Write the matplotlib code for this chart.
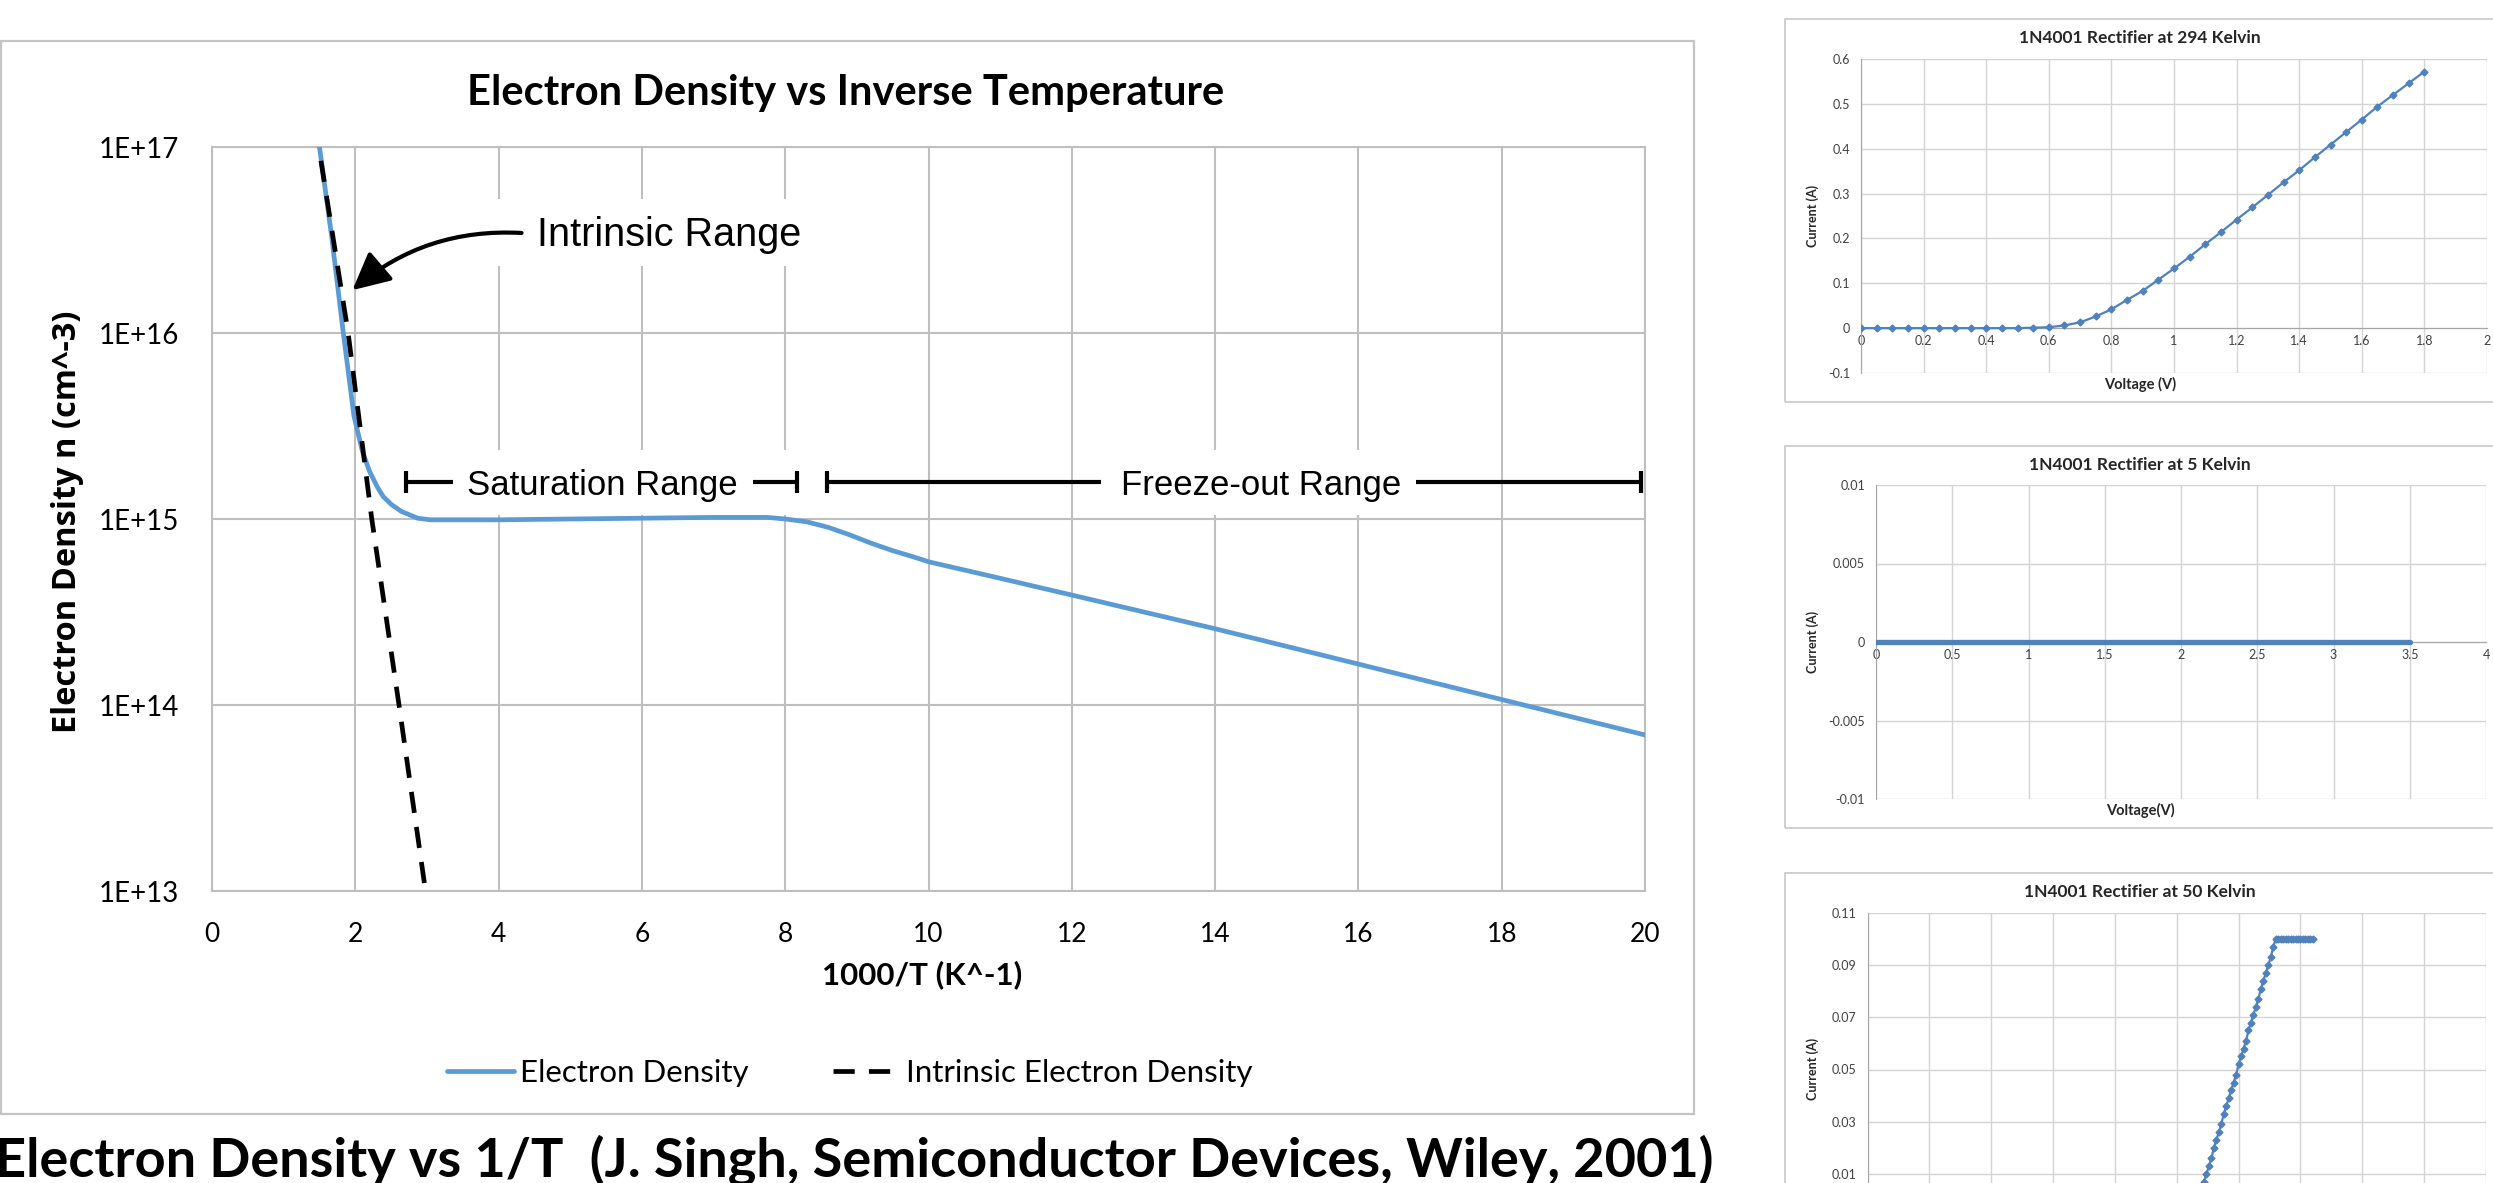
import matplotlib
matplotlib.use("Agg")
import matplotlib.pyplot as plt
from matplotlib.patches import Rectangle

W, H = 2493, 1183

# electron density n vs 1000/T
inv_temp = [1.44, 1.50, 1.67, 1.83, 1.98, 2.10, 2.20, 2.31, 2.39, 2.50, 2.64, 2.87, 3.05,
            4.0, 5.0, 6.0, 7.0, 7.75, 8.0, 8.3, 8.6, 8.9, 9.2, 9.5, 9.8, 10.0, 11.0, 12.0,
            14.0, 16.0, 18.0, 20.0]
density = [1.5e17, 1.0e17, 3.3e16, 1.02e16, 3.6e15, 2.3e15, 1.8e15, 1.48e15, 1.32e15,
           1.2e15, 1.1e15, 1.01e15, 0.99e15,
           0.99e15, 1.0e15, 1.01e15, 1.02e15, 1.02e15, 1.0e15, 9.66e14, 9.02e14, 8.22e14,
           7.41e14, 6.76e14, 6.24e14, 5.89e14, 4.8e14, 3.9e14,
           2.57e14, 1.66e14, 1.07e14, 6.9e13]

# intrinsic carrier density
inv_temp_i = [1.45, 1.49, 1.90, 2.23, 2.61, 2.98, 3.02]
density_i = [1.3e17, 1.0e17, 1.0e16, 1.0e15, 1.0e14, 1.0e13, 7.8e12]

x_ticks = [0, 2, 4, 6, 8, 10, 12, 14, 16, 18, 20]
y_ticks = [1e13, 1e14, 1e15, 1e16, 1e17]
y_labels = ["1E+13", "1E+14", "1E+15", "1E+16", "1E+17"]

# 1N4001 I-V sweeps
v_294 = [0.0, 0.05, 0.1, 0.15, 0.2, 0.25, 0.3, 0.35, 0.4, 0.45, 0.5, 0.55, 0.6, 0.65,
         0.7, 0.75, 0.8, 0.85, 0.9, 0.95, 1.0, 1.05, 1.1, 1.15, 1.2, 1.25, 1.3, 1.35,
         1.4, 1.45, 1.5, 1.55, 1.6, 1.65, 1.7, 1.75, 1.8]
i_294 = [0.0, 0.0, 0.0, 0.0, 0.0, 0.0, 0.0, 0.0, 0.0, 0.0, 0.0, 0.001, 0.002, 0.006,
         0.013, 0.026, 0.042, 0.063, 0.083, 0.108, 0.133, 0.159, 0.187, 0.214, 0.242,
         0.269, 0.297, 0.325, 0.352, 0.381, 0.409, 0.437, 0.465, 0.494, 0.520, 0.546,
         0.572]

v_5 = [0.0, 3.5]
i_5 = [0.0, 0.0]

v_50 = [2.70, 2.72, 2.74, 2.76, 2.78, 2.80, 2.82, 2.84, 2.86, 2.88, 2.90, 2.92, 2.94,
        2.96, 2.98, 3.00, 3.02, 3.04, 3.06, 3.08, 3.10, 3.12, 3.14, 3.16, 3.18, 3.20,
        3.22, 3.24, 3.26, 3.28, 3.30, 3.32, 3.34, 3.36, 3.38, 3.40, 3.42, 3.44, 3.46,
        3.48, 3.50, 3.52, 3.54, 3.56, 3.58, 3.60]
i_50 = [0.004, 0.007, 0.010, 0.013, 0.016, 0.020, 0.023, 0.026, 0.029, 0.033, 0.036,
        0.039, 0.042, 0.045, 0.048, 0.052, 0.055, 0.058, 0.061, 0.065, 0.068, 0.071,
        0.074, 0.077, 0.081, 0.084, 0.087, 0.090, 0.093, 0.097, 0.100, 0.100, 0.100,
        0.100, 0.100, 0.100, 0.100, 0.100, 0.100, 0.100, 0.100, 0.100, 0.100, 0.100,
        0.100, 0.100]


def fx(x):
    return x / W


def fy(y):
    return 1 - y / H


def ax_rect(left, top, right, bottom):
    return [fx(left), fy(bottom), (right - left) / W, (bottom - top) / H]


CAL = ["Lato", "DejaVu Sans"]
ARIAL = ["Liberation Sans", "DejaVu Sans"]
BLUE = "#5b9bd5"
GRID = "#bfbfbf"

fig = plt.figure(figsize=(W / 100, H / 100), dpi=100)
fig.patch.set_facecolor("white")

# chart frame
fig.add_artist(Rectangle((fx(1), fy(1114)), 1693 / W, 1073 / H, transform=fig.transFigure,
                         facecolor="none", edgecolor="#c4c4c4", lw=1.6))

ax = fig.add_axes(ax_rect(212, 147, 1645, 891))
ax.set_yscale("log")
ax.set_xlim(0, 20)
ax.set_ylim(1e13, 1e17)
ax.set_xticks(x_ticks)
ax.set_xticklabels([str(t) for t in x_ticks])
ax.set_yticks(y_ticks)
ax.set_yticklabels(y_labels)
ax.minorticks_off()
ax.set_axisbelow(True)
ax.grid(True, color=GRID, lw=1.5)
for s in ax.spines.values():
    s.set_color(GRID)
    s.set_linewidth(1.5)
ax.tick_params(length=0, labelsize=19, pad=22)
ax.tick_params(axis="y", labelsize=20, pad=24)
for lab in ax.get_xticklabels() + ax.get_yticklabels():
    lab.set_family(CAL)

ax.plot(inv_temp, density, color=BLUE, lw=3.4, solid_joinstyle="round",
        solid_capstyle="round", label="Electron Density", zorder=3)
ax.plot(inv_temp_i, density_i, color="black", lw=3.4, dashes=(4.5, 3),
        label="Intrinsic Electron Density", zorder=4)

# white backing behind the range labels
ax.add_patch(Rectangle((3.85, 10 ** 16.36), 5.4, 10 ** 16.72 - 10 ** 16.36,
                       facecolor="white", edgecolor="none", zorder=1))
ax.add_patch(Rectangle((2.6, 10 ** 15.02), 5.7, 10 ** 15.37 - 10 ** 15.02,
                       facecolor="white", edgecolor="none", zorder=1))
ax.add_patch(Rectangle((12.3, 10 ** 15.02), 4.6, 10 ** 15.37 - 10 ** 15.02,
                       facecolor="white", edgecolor="none", zorder=1))

ax.text(4.53, 2.94e16, "Intrinsic Range", fontsize=28.5, family=ARIAL,
        ha="left", va="baseline", zorder=5)
ax.annotate("", xy=(1.96, 1.7e16), xytext=(4.32, 3.45e16),
            arrowprops=dict(arrowstyle="-|>,head_length=0.6,head_width=0.3",
                            connectionstyle="arc3,rad=0.2", color="black", lw=3,
                            mutation_scale=38, shrinkA=0, shrinkB=0), zorder=5)

# range brackets
br_y = 1.585e15
bar = 10 ** 0.06
for x0, x1 in [(2.71, 3.36), (7.55, 8.17), (8.58, 12.41), (16.8, 19.94)]:
    ax.plot([x0, x1], [br_y, br_y], color="black", lw=3, solid_capstyle="butt", zorder=5)
ax.vlines([2.71, 8.17, 8.58, 19.94], br_y / bar, br_y * bar, color="black", lw=3, zorder=5)
ax.text(5.45, 1.35e15, "Saturation Range", fontsize=25, family=ARIAL,
        ha="center", va="baseline", zorder=5)
ax.text(14.64, 1.35e15, "Freeze-out Range", fontsize=25, family=ARIAL,
        ha="center", va="baseline", zorder=5)

fig.text(fx(846), fy(105), "Electron Density vs Inverse Temperature", fontsize=30,
         fontweight="bold", family=CAL, ha="center", va="baseline")
fig.text(fx(922), fy(984), "1000/T (K^-1)", fontsize=22.5, fontweight="bold",
         family=CAL, ha="center", va="baseline")
fig.text(fx(68), fy(522), "Electron Density n (cm^-3)", fontsize=23.5, fontweight="bold",
         family=["Open Sans", "DejaVu Sans"], rotation=90, ha="center", va="center")

leg = ax.legend(loc="center", bbox_to_anchor=(fx(850), fy(1073)),
                bbox_transform=fig.transFigure, ncol=2, frameon=False,
                prop={"family": CAL, "size": 22.5}, handlelength=2.14,
                handletextpad=0.2, columnspacing=2.7)

fig.text(fx(-5), fy(1177), "Electron Density vs 1/T  (J. Singh, Semiconductor Devices, Wiley, 2001)",
         fontsize=39, fontweight="bold", family=CAL, ha="left", va="baseline")

# --- small I-V charts on the right ---
IV_BLUE = "#4f81bd"
SMALL_GRID = "#d4d4d4"
TXT = "#404040"


def iv_chart(rect, frame, title, title_y, xlim, xt, xlabels, ylim, yt, ylabels,
             xlab, xlab_y, ylab_y):
    fig.add_artist(Rectangle((fx(frame[0]), fy(frame[3])), (frame[2] - frame[0]) / W,
                             (frame[3] - frame[1]) / H, transform=fig.transFigure,
                             facecolor="none", edgecolor="#c8c8c8", lw=1.2))
    a = fig.add_axes(rect)
    a.set_xlim(*xlim)
    a.set_ylim(*ylim)
    a.set_xticks(xt)
    a.set_xticklabels(xlabels)
    a.set_yticks(yt)
    a.set_yticklabels(ylabels)
    a.set_axisbelow(True)
    a.grid(True, color=SMALL_GRID, lw=1.0)
    a.spines["top"].set_visible(False)
    a.spines["right"].set_visible(False)
    a.spines["bottom"].set_position(("data", 0))
    a.spines["bottom"].set_color("#a6a6a6")
    a.spines["left"].set_color("#a6a6a6")
    a.tick_params(length=0, labelsize=9, colors=TXT)
    a.tick_params(axis="x", pad=5)
    a.tick_params(axis="y", pad=8)
    for lab in a.get_xticklabels() + a.get_yticklabels():
        lab.set_family(CAL)
    cx = 2140
    fig.text(fx(cx), fy(title_y), title, fontsize=12.5, fontweight="bold", family=CAL,
             color="#262626", ha="center", va="center")
    if xlab:
        fig.text(fx(cx), fy(xlab_y), xlab, fontsize=10.5, fontweight="bold", family=CAL,
                 color="#262626", ha="center", va="center")
    fig.text(fx(1813), fy(ylab_y), "Current (A)", fontsize=9, fontweight="bold",
             family=CAL, color="#262626", rotation=90, ha="center", va="center")
    return a


a1 = iv_chart(ax_rect(1861, 59, 2487, 373), (1785, 19, 2560, 402),
              "1N4001 Rectifier at 294 Kelvin", 38, (0, 2),
              [0, 0.2, 0.4, 0.6, 0.8, 1.0, 1.2, 1.4, 1.6, 1.8, 2.0],
              ["0", "0.2", "0.4", "0.6", "0.8", "1", "1.2", "1.4", "1.6", "1.8", "2"],
              (-0.1, 0.6), [-0.1, 0, 0.1, 0.2, 0.3, 0.4, 0.5, 0.6],
              ["-0.1", "0", "0.1", "0.2", "0.3", "0.4", "0.5", "0.6"],
              "Voltage (V)", 384, 216)
a1.plot(v_294, i_294, color=IV_BLUE, lw=1.6, marker="D", ms=3.5, zorder=3)

a2 = iv_chart(ax_rect(1876, 485, 2486, 799), (1785, 446, 2560, 828),
              "1N4001 Rectifier at 5 Kelvin", 465, (0, 4),
              [0, 0.5, 1, 1.5, 2, 2.5, 3, 3.5, 4],
              ["0", "0.5", "1", "1.5", "2", "2.5", "3", "3.5", "4"],
              (-0.01, 0.01), [-0.01, -0.005, 0, 0.005, 0.01],
              ["-0.01", "-0.005", "0", "0.005", "0.01"],
              "Voltage(V)", 810, 642)
a2.plot(v_5, i_5, color=IV_BLUE, lw=3.8, solid_capstyle="round", zorder=3)

# the 50 K chart runs off the bottom of the page: its voltage axis is not visible
a3 = iv_chart(ax_rect(1867.5, 913, 2486, 1226), (1785, 873, 2560, 1300),
              "1N4001 Rectifier at 50 Kelvin", 892, (0, 5),
              [0, 0.5, 1, 1.5, 2, 2.5, 3, 3.5, 4, 4.5, 5],
              [""] * 11,
              (-0.01, 0.11), [-0.01, 0.01, 0.03, 0.05, 0.07, 0.09, 0.11],
              ["", "0.01", "0.03", "0.05", "0.07", "0.09", "0.11"],
              None, 0, 1069)
a3.plot(v_50, i_50, color=IV_BLUE, lw=1.6, marker="D", ms=3.5, zorder=3)

fig.savefig("out.png", dpi=100, facecolor="white")
